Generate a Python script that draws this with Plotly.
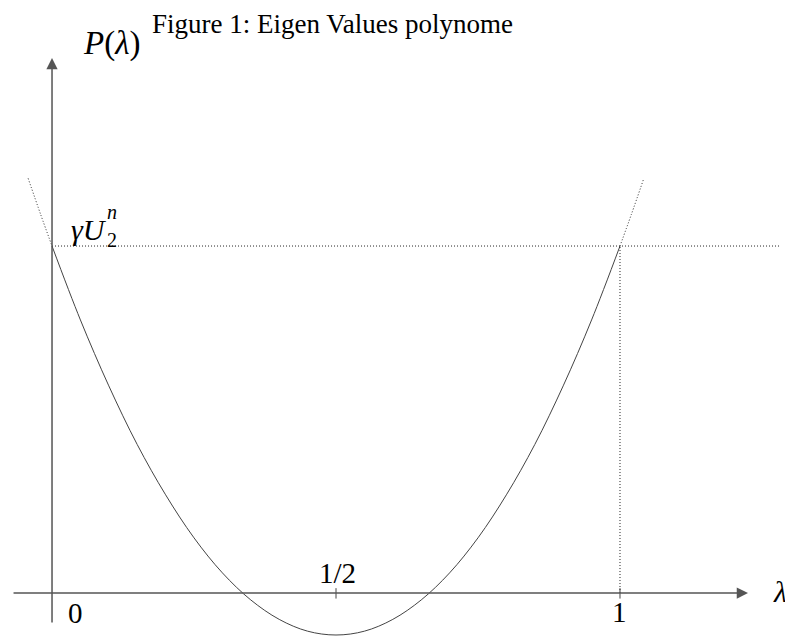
import plotly.graph_objects as go

lam_solid = [0.0, 0.05, 0.1, 0.15, 0.2, 0.25, 0.3, 0.35, 0.4, 0.45, 0.5,
             0.55, 0.6, 0.65, 0.7, 0.75, 0.8, 0.85, 0.9, 0.95, 1.0]
p_solid = [1.0, 0.787, 0.597, 0.428, 0.283, 0.159, 0.058, -0.020, -0.076, -0.110, -0.121,
           -0.110, -0.076, -0.020, 0.058, 0.159, 0.283, 0.428, 0.597, 0.787, 1.0]
lam_left = [-0.042, -0.02, 0.0]
p_left = [1.195, 1.091, 1.0]
lam_right = [1.0, 1.02, 1.042]
p_right = [1.0, 1.091, 1.195]

level = 1.0          # gamma U_2^n
tick_pos = [0.5, 1.0]
tick_text = ["1/2", "1"]

SERIF = "Liberation Serif"
DOT = "1px,2px"

fig = go.Figure()

# dotted parts of the parabola outside [0, 1]
for xs, ys in [(lam_left, p_left), (lam_right, p_right)]:
    fig.add_trace(go.Scatter(x=xs, y=ys, mode="lines",
                             line=dict(color="#222", width=1, dash=DOT, shape="spline"),
                             hoverinfo="skip"))

# solid parabola on [0, 1]
fig.add_trace(go.Scatter(x=lam_solid, y=p_solid, mode="lines",
                         line=dict(color="#444", width=1, shape="spline"),
                         hoverinfo="skip"))

# horizontal dotted level and vertical dotted line at lambda = 1
fig.add_trace(go.Scatter(x=[0, 1.28], y=[level, level], mode="lines",
                         line=dict(color="#222", width=1, dash=DOT), hoverinfo="skip"))
fig.add_trace(go.Scatter(x=[1, 1], y=[0, level], mode="lines",
                         line=dict(color="#222", width=1, dash=DOT), hoverinfo="skip"))

# small ticks on the lambda axis
tx, ty = [], []
for t in tick_pos:
    tx += [t, t, None]
    ty += [-0.016, 0.014, None]
fig.add_trace(go.Scatter(x=tx, y=ty, mode="lines",
                         line=dict(color="#444", width=1), hoverinfo="skip"))

# axes with arrows
arrow = dict(text="", showarrow=True, arrowhead=2, arrowsize=1.5, arrowwidth=1.5,
             arrowcolor="#555", xref="x", yref="y", axref="x", ayref="y", standoff=0)
fig.add_annotation(x=1.2254, y=0, ax=-0.0704, ay=0, **arrow)
fig.add_annotation(x=0, y=1.542, ax=0, ay=-0.0893, **arrow)

# labels
def label(x, y, text, size, **kw):
    fig.add_annotation(x=x, y=y, text=text, showarrow=False, xref="x", yref="y",
                       font=dict(family=SERIF, size=size, color="black"), **kw)

label(0.1725, 1.640, "Figure 1: Eigen Values polynome", 27, xanchor="left")
label(0.104, 1.585, "<i>P</i>(<i>λ</i>)", 33)
label(0.0405, -0.0576, "0", 29)
label(tick_pos[0] + 0.0035, 0.0576, tick_text[0], 29)
label(tick_pos[1], -0.0548, tick_text[1], 29)
label(1.2817, 0.003, "<i>λ</i>", 30)
label(0.100, 1.048, "<i>γU</i>", 30, xanchor="right")
label(0.093, 1.098, "<i>n</i>", 20, xanchor="left")
label(0.093, 1.017, "2", 20, xanchor="left")

# the page body has an 8px margin, so the plot area is offset accordingly
fig.update_layout(
    width=793, height=638,
    margin=dict(l=0, r=0, t=0, b=0),
    plot_bgcolor="white", paper_bgcolor="white",
    showlegend=False,
    xaxis=dict(range=[-0.0775, 1.3187], visible=False),
    yaxis=dict(range=[-0.1527, 1.686], visible=False),
)

fig.write_html("out.html")
